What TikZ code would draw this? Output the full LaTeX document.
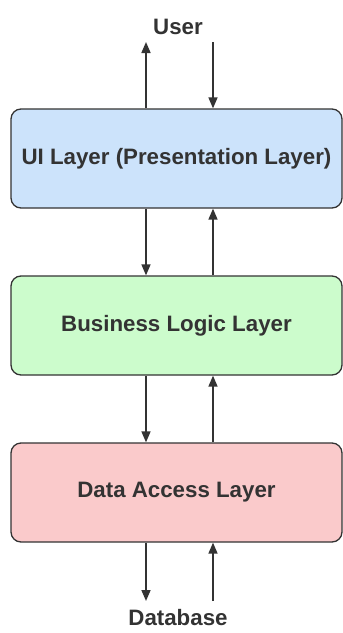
\documentclass[tikz,border=0pt]{standalone}
\usepackage{fontspec}
\setmainfont{Liberation Sans}
\usetikzlibrary{arrows.meta}
\definecolor{ink}{HTML}{333333}
\definecolor{uifill}{HTML}{CCE3FB}
\definecolor{blfill}{HTML}{CCFCCC}
\definecolor{dafill}{HTML}{FACACB}
\tikzset{
  layer/.style={draw=ink, line width=1.3pt, rounded corners=10pt,
    minimum width=331pt, minimum height=99pt, inner sep=0pt,
    font=\fontsize{22.3}{26}\selectfont\bfseries, text=ink},
  endlabel/.style={inner sep=0pt, font=\fontsize{22.3}{26}\selectfont\bfseries, text=ink},
  flow/.style={draw=ink, line width=1.7pt,
    -{Triangle[width=9pt,length=11pt]}}
}
\begin{document}
\begin{tikzpicture}[x=1pt,y=1pt]
  \useasboundingbox (0,0) rectangle (343,-633);
  % labels at the two ends
  \node[endlabel] (user) at (178,-27) {User};
  \node[endlabel] (db)   at (178,-618) {Database};
  % the three layers
  \node[layer, fill=uifill] (ui) at (176.5,-158.5) {UI Layer (Presentation Layer)};
  \node[layer, fill=blfill] (bl) at (176.5,-325.5) {Business Logic Layer};
  \node[layer, fill=dafill] (da) at (176.5,-492.5) {Data Access Layer};
  % free ends of the outer arrows
  \coordinate (uL) at (146,-42);
  \coordinate (uR) at (213,-42);
  \coordinate (dL) at (146,-601);
  \coordinate (dR) at (213,-601);
  % user <-> UI
  \draw[flow] (ui.north -| uL) -- (uL);
  \draw[flow] (uR) -- (ui.north -| uR);
  % UI <-> business logic
  \draw[flow] (ui.south -| uL) -- (bl.north -| uL);
  \draw[flow] (bl.north -| uR) -- (ui.south -| uR);
  % business logic <-> data access
  \draw[flow] (bl.south -| uL) -- (da.north -| uL);
  \draw[flow] (da.north -| uR) -- (bl.south -| uR);
  % data access <-> database
  \draw[flow] (da.south -| dL) -- (dL);
  \draw[flow] (dR) -- (da.south -| dR);
\end{tikzpicture}
\end{document}
